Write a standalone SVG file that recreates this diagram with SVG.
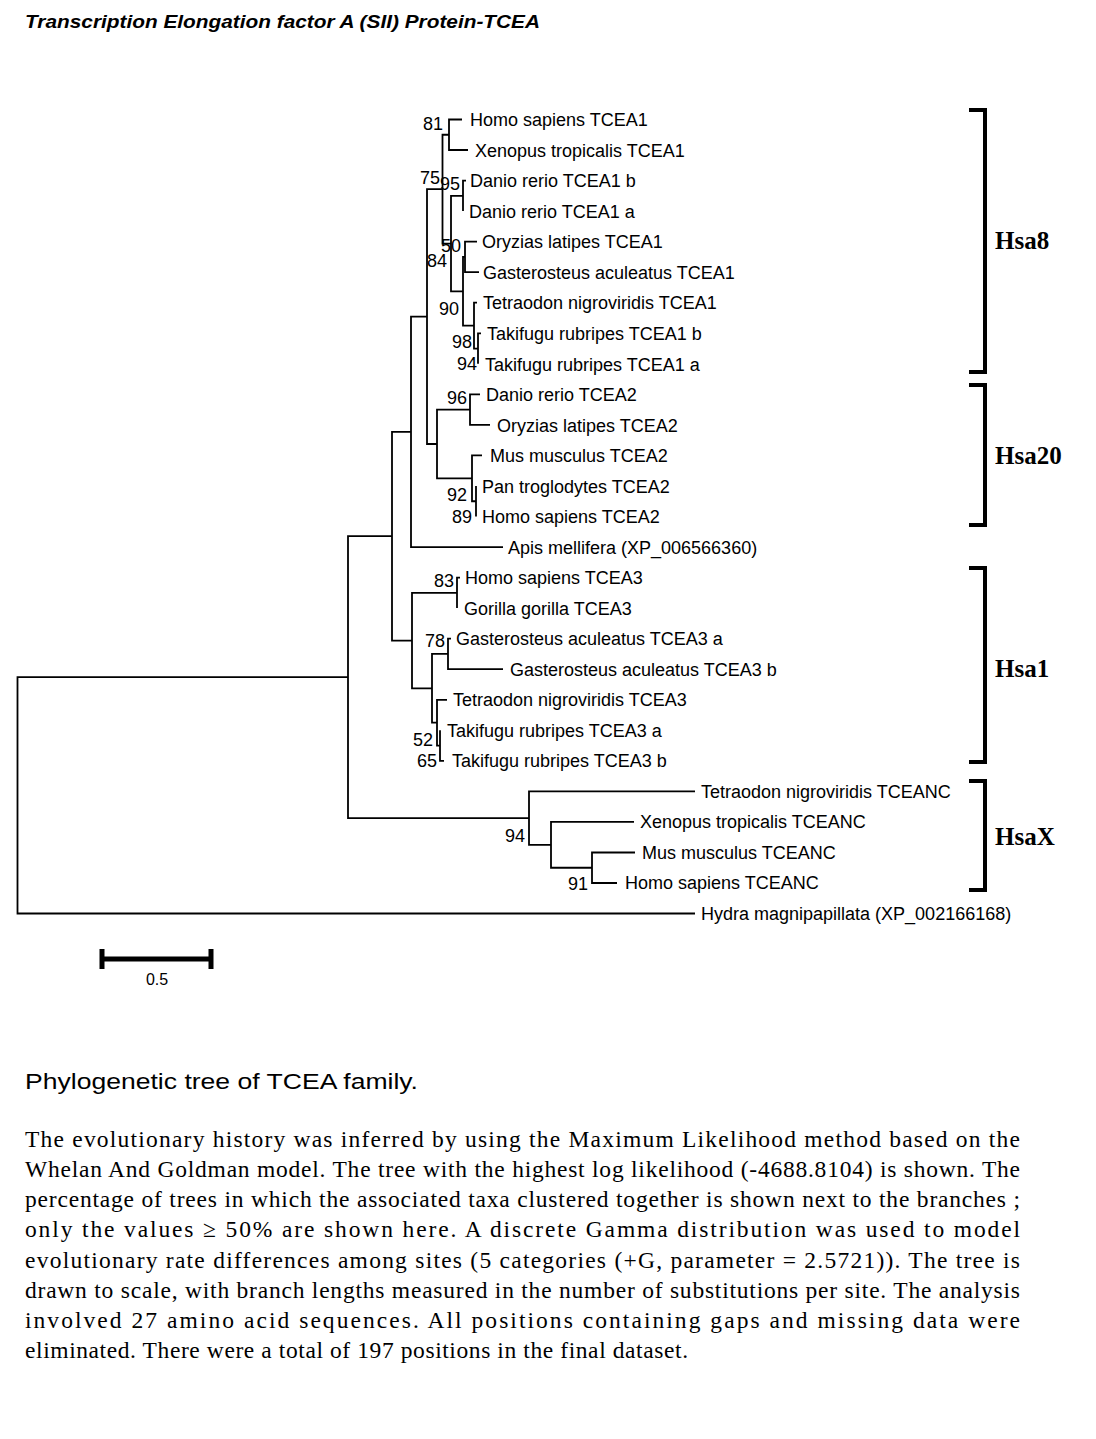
<svg xmlns="http://www.w3.org/2000/svg" width="1096" height="1439" viewBox="0 0 1096 1439">
<style>
.br{fill:none;stroke:#000;stroke-width:1.8;stroke-linejoin:miter;stroke-linecap:butt}
.bk{fill:none;stroke:#000;stroke-width:4;stroke-linejoin:miter}
.lf{font-family:"Liberation Sans",Arial,sans-serif;font-size:18px;fill:#000}
.bs{font-family:"Liberation Sans",Arial,sans-serif;font-size:18px;fill:#000;text-anchor:end}
.hs{font-family:"Liberation Serif","Times New Roman",serif;font-size:25px;font-weight:bold;fill:#000}
.pg{font-family:"Liberation Serif","Times New Roman",serif;font-size:23.5px;fill:#000}
</style>
<rect width="1096" height="1439" fill="#fff"/>
<text x="25" y="28" font-family="Liberation Sans,Arial,sans-serif" font-size="18.5" font-weight="bold" font-style="italic" textLength="515" lengthAdjust="spacingAndGlyphs">Transcription Elongation factor A (SII) Protein-TCEA</text>

<g id="connectors">
<path class="br" d="M462,119.5 H449 V150 H468"/>
<path class="br" d="M466,180.6 H463 V211.1"/>
<path class="br" d="M477,241.7 H465 V272.2 H479"/>
<path class="br" d="M481,333.3 H478 V363.8"/>
<path class="br" d="M477,302.7 H474 V348.55 H478"/>
<path class="br" d="M465,256.95 H463 V325.6 H474"/>
<path class="br" d="M463,195.85 H451 V291.3 H463"/>
<path class="br" d="M449,134.75 H442.5 V243.6 H451"/>
<path class="br" d="M480,394.4 H470 V424.9 H490"/>
<path class="br" d="M476,486 V516.5"/>
<path class="br" d="M482,455.4 H472 V501.25 H476"/>
<path class="br" d="M470,409.65 H437 V478.3 H472"/>
<path class="br" d="M442.5,189.2 H427 V443.98 H437"/>
<path class="br" d="M427,316.6 H411 V547.1 H503"/>
<path class="br" d="M460,577.6 H457 V608.1"/>
<path class="br" d="M451,638.7 H448 V669.2 H503"/>
<path class="br" d="M440,730.3 V760.8 H444"/>
<path class="br" d="M447,699.8 H437 V745.55 H440"/>
<path class="br" d="M448,653.95 H432 V722.7 H437"/>
<path class="br" d="M457,592.85 H412 V688.3 H432"/>
<path class="br" d="M411,431.85 H392 V640.6 H412"/>
<path class="br" d="M635,852.5 H592 V883 H617"/>
<path class="br" d="M634,821.9 H551 V867.75 H592"/>
<path class="br" d="M695,791.4 H529 V844.8 H551"/>
<path class="br" d="M392,536.2 H348 V818.1 H529"/>
<path class="br" d="M348,677.2 H17.5 V913.5 H695"/>
</g>

<g id="bootstrap">
<text class="bs" x="443" y="130">81</text>
<text class="bs" x="440" y="184">75</text>
<text class="bs" x="460" y="190">95</text>
<text class="bs" x="461" y="252">50</text>
<text class="bs" x="447" y="267">84</text>
<text class="bs" x="459" y="315">90</text>
<text class="bs" x="472" y="348">98</text>
<text class="bs" x="477" y="370">94</text>
<text class="bs" x="467" y="404">96</text>
<text class="bs" x="467" y="501">92</text>
<text class="bs" x="472" y="523">89</text>
<text class="bs" x="454" y="587">83</text>
<text class="bs" x="445" y="647">78</text>
<text class="bs" x="433" y="746">52</text>
<text class="bs" x="437" y="767">65</text>
<text class="bs" x="525" y="842">94</text>
<text class="bs" x="588" y="890">91</text>
</g>

<g id="leaf-homo-tcea1"><text class="lf" x="470" y="126">Homo sapiens TCEA1</text></g>
<g id="leaf-xenopus-tcea1"><text class="lf" x="475" y="156.5">Xenopus tropicalis TCEA1</text></g>
<g id="leaf-danio-tcea1b"><text class="lf" x="470" y="187">Danio rerio TCEA1 b</text></g>
<g id="leaf-danio-tcea1a"><text class="lf" x="469" y="217.5">Danio rerio TCEA1 a</text></g>
<g id="leaf-oryzias-tcea1"><text class="lf" x="482" y="248">Oryzias latipes TCEA1</text></g>
<g id="leaf-gasterosteus-tcea1"><text class="lf" x="483" y="278.5">Gasterosteus aculeatus TCEA1</text></g>
<g id="leaf-tetraodon-tcea1"><text class="lf" x="483" y="309">Tetraodon nigroviridis TCEA1</text></g>
<g id="leaf-takifugu-tcea1b"><text class="lf" x="487" y="340">Takifugu rubripes TCEA1 b</text></g>
<g id="leaf-takifugu-tcea1a"><text class="lf" x="485" y="370.5">Takifugu rubripes TCEA1 a</text></g>
<g id="leaf-danio-tcea2"><text class="lf" x="486" y="401">Danio rerio TCEA2</text></g>
<g id="leaf-oryzias-tcea2"><text class="lf" x="497" y="431.5">Oryzias latipes TCEA2</text></g>
<g id="leaf-mus-tcea2"><text class="lf" x="490" y="462">Mus musculus TCEA2</text></g>
<g id="leaf-pan-tcea2"><text class="lf" x="482" y="492.5">Pan troglodytes TCEA2</text></g>
<g id="leaf-homo-tcea2"><text class="lf" x="482" y="523">Homo sapiens TCEA2</text></g>
<g id="leaf-apis"><text class="lf" x="508" y="553.5">Apis mellifera (XP_006566360)</text></g>
<g id="leaf-homo-tcea3"><text class="lf" x="465" y="584">Homo sapiens TCEA3</text></g>
<g id="leaf-gorilla-tcea3"><text class="lf" x="464" y="614.5">Gorilla gorilla TCEA3</text></g>
<g id="leaf-gasterosteus-tcea3a"><text class="lf" x="456" y="645">Gasterosteus aculeatus TCEA3 a</text></g>
<g id="leaf-gasterosteus-tcea3b"><text class="lf" x="510" y="675.5">Gasterosteus aculeatus TCEA3 b</text></g>
<g id="leaf-tetraodon-tcea3"><text class="lf" x="453" y="706">Tetraodon nigroviridis TCEA3</text></g>
<g id="leaf-takifugu-tcea3a"><text class="lf" x="447" y="736.5">Takifugu rubripes TCEA3 a</text></g>
<g id="leaf-takifugu-tcea3b"><text class="lf" x="452" y="767">Takifugu rubripes TCEA3 b</text></g>
<g id="leaf-tetraodon-tceanc"><text class="lf" x="701" y="797.5">Tetraodon nigroviridis TCEANC</text></g>
<g id="leaf-xenopus-tceanc"><text class="lf" x="640" y="828">Xenopus tropicalis TCEANC</text></g>
<g id="leaf-mus-tceanc"><text class="lf" x="642" y="858.5">Mus musculus TCEANC</text></g>
<g id="leaf-homo-tceanc"><text class="lf" x="625" y="889">Homo sapiens TCEANC</text></g>
<g id="leaf-hydra"><text class="lf" x="701" y="920">Hydra magnipapillata (XP_002166168)</text></g>

<g id="group-hsa8"><path class="bk" d="M969,110 H985 V372 H969"/><text class="hs" x="995" y="249">Hsa8</text></g>
<g id="group-hsa20"><path class="bk" d="M969,385 H985 V525 H969"/><text class="hs" x="995" y="464">Hsa20</text></g>
<g id="group-hsa1"><path class="bk" d="M969,568 H985 V762 H969"/><text class="hs" x="995" y="677">Hsa1</text></g>
<g id="group-hsax"><path class="bk" d="M969,781 H985 V890 H969"/><text class="hs" x="995" y="845">HsaX</text></g>

<g id="scale-bar">
<path d="M102,959 H211" stroke="#000" stroke-width="5" fill="none"/>
<path d="M102,949 V969 M211,949 V969" stroke="#000" stroke-width="5" fill="none"/>
<text x="157" y="985" font-family="Liberation Sans,Arial,sans-serif" font-size="16" text-anchor="middle">0.5</text>
</g>

<g id="caption">
<text x="25" y="1089" font-family="Liberation Sans,Arial,sans-serif" font-size="22.5" textLength="393" lengthAdjust="spacingAndGlyphs">Phylogenetic tree of TCEA family.</text>
<text class="pg" x="25" y="1147" textLength="995" lengthAdjust="spacing">The evolutionary history was inferred by using the Maximum Likelihood method based on the</text>
<text class="pg" x="25" y="1177" textLength="995" lengthAdjust="spacing">Whelan And Goldman model. The tree with the highest log likelihood (-4688.8104) is shown. The</text>
<text class="pg" x="25" y="1207" textLength="995" lengthAdjust="spacing">percentage of trees in which the associated taxa clustered together is shown next to the branches ;</text>
<text class="pg" x="25" y="1237" textLength="995" lengthAdjust="spacing">only the values ≥ 50% are shown here. A discrete Gamma distribution was used to model</text>
<text class="pg" x="25" y="1268" textLength="995" lengthAdjust="spacing">evolutionary rate differences among sites (5 categories (+G, parameter = 2.5721)). The tree is</text>
<text class="pg" x="25" y="1298" textLength="995" lengthAdjust="spacing">drawn to scale, with branch lengths measured in the number of substitutions per site. The analysis</text>
<text class="pg" x="25" y="1328" textLength="995" lengthAdjust="spacing">involved 27 amino acid sequences. All positions containing gaps and missing data were</text>
<text class="pg" x="25" y="1358" textLength="663" lengthAdjust="spacing">eliminated. There were a total of 197 positions in the final dataset.</text>
</g>
</svg>
